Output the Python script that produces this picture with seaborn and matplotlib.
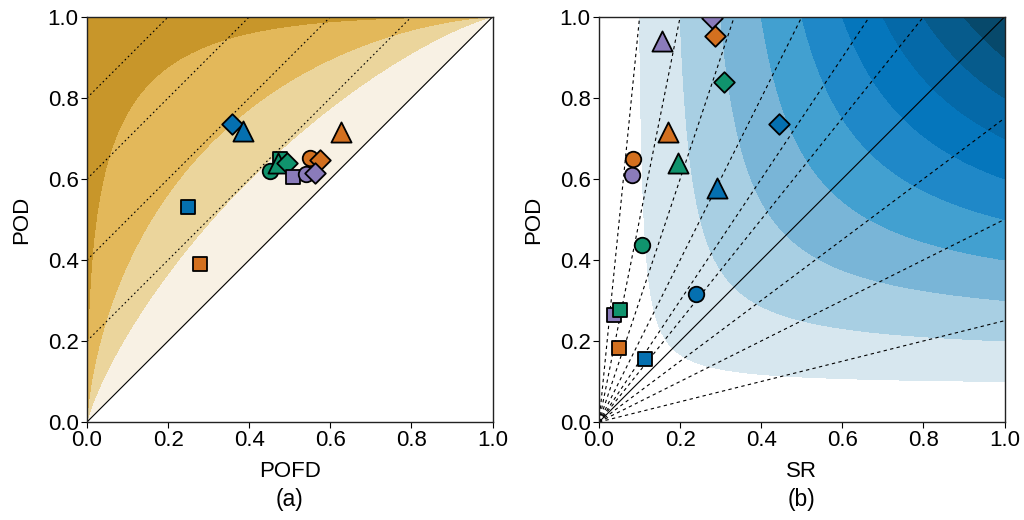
import math

import numpy as np
import pandas as pd
import seaborn as sns
import matplotlib.pyplot as plt

# ---- data -------------------------------------------------------------
colours = ["blue", "orange", "green", "purple"]
shapes = ["circle", "square", "triangle", "diamond"]

palette = {"blue": "#0570B0", "orange": "#D3701F",
           "green": "#10936D", "purple": "#8A7BBA"}
marker_map = {"circle": "o", "square": "s", "triangle": "^", "diamond": "D"}
size_map = {"circle": 125, "square": 115, "triangle": 210, "diamond": 110}

# panel (a): ROC points
roc_colour = ["blue", "blue", "blue", "orange", "orange", "orange", "orange",
              "green", "green", "green", "green", "purple", "purple", "purple"]
roc_shape = ["diamond", "triangle", "square", "triangle", "square", "circle", "diamond",
             "circle", "square", "triangle", "diamond", "square", "circle", "diamond"]
roc_pofd = [0.357, 0.384, 0.248, 0.627, 0.279, 0.549, 0.574,
            0.451, 0.475, 0.471, 0.492, 0.508, 0.540, 0.562]
roc_pod = [0.735, 0.719, 0.531, 0.715, 0.389, 0.651, 0.646,
           0.620, 0.649, 0.640, 0.640, 0.604, 0.612, 0.615]

# panel (b): performance diagram points
perf_colour = ["purple", "purple", "purple", "purple",
               "orange", "orange", "orange", "orange",
               "green", "green", "green", "green",
               "blue", "blue", "blue", "blue"]
perf_shape = ["circle", "square", "triangle", "diamond"] * 4
perf_sr = [0.081, 0.036, 0.156, 0.279,
           0.084, 0.049, 0.170, 0.285,
           0.105, 0.052, 0.194, 0.307,
           0.240, 0.114, 0.290, 0.444]
perf_pod = [0.610, 0.265, 0.940, 0.998,
            0.648, 0.183, 0.715, 0.954,
            0.4375, 0.277, 0.639, 0.840,
            0.317, 0.155, 0.578, 0.736]

dprime_levels = [0, 0.5, 1, 2, 50]
dprime_colours = ["#F8F1E4", "#EBD59C", "#E3B85A", "#C8962A"]
pss_levels = [0.2, 0.4, 0.6, 0.8]

csi_levels = [0.1, 0.2, 0.3, 0.4, 0.5, 0.6, 0.7, 0.8, 0.9, 1.0]
csi_colours = ["#D7E7EF", "#A8CFE3", "#79B5D7", "#42A0D0", "#1F88C8",
               "#0576BC", "#0569A8", "#065B8C", "#07496B"]
bias_levels = [0.25, 0.5, 0.75, 1.25, 1.5, 2, 3, 5, 10]

ticks = [0.0, 0.2, 0.4, 0.6, 0.8, 1.0]

# ---- style ------------------------------------------------------------
sns.set_style("ticks")
plt.rcParams["font.family"] = ["Liberation Sans", "DejaVu Sans"]
plt.rcParams["font.size"] = 16
plt.rcParams["axes.linewidth"] = 1.0
plt.rcParams["xtick.major.size"] = 4
plt.rcParams["ytick.major.size"] = 4
plt.rcParams["xtick.color"] = "black"
plt.rcParams["ytick.color"] = "black"
plt.rcParams["axes.labelcolor"] = "black"
plt.rcParams["text.color"] = "black"
plt.rcParams["axes.edgecolor"] = "#222222"

fig = plt.figure(figsize=(10.24, 5.2), dpi=100)
ax_a = fig.add_axes([0.085, 0.1885, 0.396, 0.779])
ax_b = fig.add_axes([0.585, 0.1885, 0.396, 0.779])

phi = np.vectorize(lambda z: 0.5 * (1.0 + math.erf(z / math.sqrt(2.0))))


def scatter(ax, x, y, colour, shape):
    df = pd.DataFrame({"x": x, "y": y, "colour": colour, "kind": shape})
    for _, row in df.iterrows():
        sns.scatterplot(x=[row["x"]], y=[row["y"]], ax=ax, color=palette[row["colour"]],
                        marker=marker_map[row["kind"]], s=size_map[row["kind"]],
                        edgecolor="black", linewidth=1.3, zorder=5, legend=False,
                        clip_on=True)


# ---- (a) ROC diagram with binormal d' shading ------------------------
z = np.linspace(-6, 6, 500)
Z1, Z2 = np.meshgrid(z, z)
F, H = phi(Z1), phi(Z2)
ax_a.contourf(F, H, Z2 - Z1, levels=dprime_levels, colors=dprime_colours, zorder=1)

grid = np.linspace(0, 1, 200)
for k in pss_levels:
    ax_a.plot(grid, grid + k, color="black", lw=0.8, ls=(0, (1.5, 2.5)), zorder=2)
ax_a.plot(grid, grid, color="black", lw=0.8, zorder=2)

scatter(ax_a, roc_pofd, roc_pod, roc_colour, roc_shape)
ax_a.set_xlabel("POFD", labelpad=7)
ax_a.set_ylabel("POD", labelpad=11)

# ---- (b) performance diagram with CSI shading ------------------------
sr = np.linspace(0.001, 1, 500)
SR, POD = np.meshgrid(sr, sr)
CSI = 1.0 / (1.0 / SR + 1.0 / POD - 1.0)
ax_b.contourf(SR, POD, CSI, levels=csi_levels, colors=csi_colours, zorder=1)

line = np.linspace(0, 1, 200)
for b in bias_levels:
    ax_b.plot(line, b * line, color="black", lw=0.8, ls=(0, (3, 3)), zorder=2)
ax_b.plot(line, line, color="black", lw=0.8, zorder=2)

scatter(ax_b, perf_sr, perf_pod, perf_colour, perf_shape)
ax_b.set_xlabel("SR", labelpad=7)
ax_b.set_ylabel("POD", labelpad=11)

for ax in (ax_a, ax_b):
    ax.set_xlim(0, 1)
    ax.set_ylim(0, 1)
    ax.set_xticks(ticks)
    ax.set_yticks(ticks)
    ax.set_xticklabels([f"{t:.1f}" for t in ticks])
    ax.set_yticklabels([f"{t:.1f}" for t in ticks])
    ax.tick_params(labelsize=16, pad=2)
    for sp in ax.spines.values():
        sp.set_visible(True)
        sp.set_zorder(6)

fig.text(0.283, 0.040, "(a)", ha="center", va="center", fontsize=16.5)
fig.text(0.783, 0.040, "(b)", ha="center", va="center", fontsize=16.5)

fig.savefig("out.png", dpi=100)
